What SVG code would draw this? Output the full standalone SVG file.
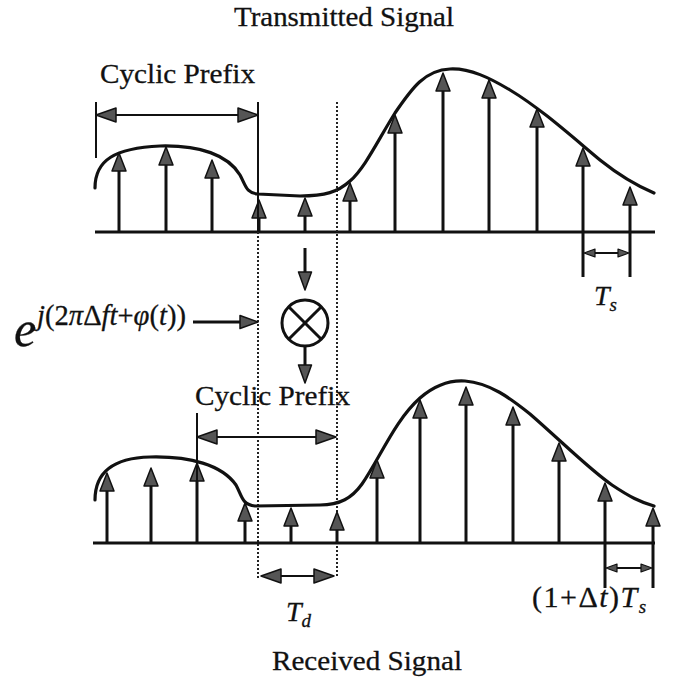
<svg xmlns="http://www.w3.org/2000/svg" width="686" height="680" viewBox="0 0 686 680">
<style>
.txt{font-family:"Liberation Serif","Times New Roman",serif;fill:#111;stroke:#111;stroke-width:0.3}
.it{font-style:italic}
.ln{stroke:#111;stroke-width:3;fill:none}
.stem{stroke:#111;stroke-width:3;marker-end:url(#ah)}
.curve{stroke:#111;stroke-width:3.2;fill:none;stroke-linecap:round}
.dot{stroke:#222;stroke-width:2;stroke-dasharray:2 2;fill:none}
.thin{stroke:#111;stroke-width:2;fill:none}
</style>
<defs>
<marker id="ah" viewBox="0 0 18 14" refX="10" refY="7" markerWidth="18" markerHeight="14" markerUnits="userSpaceOnUse" orient="auto" overflow="visible">
<path d="M0,0 L18,7 L0,14 z" fill="#555" stroke="#111" stroke-width="1.5" stroke-linejoin="round"/>
</marker>
<marker id="big" viewBox="0 0 20 14" refX="12" refY="7" markerWidth="20" markerHeight="14" markerUnits="userSpaceOnUse" orient="auto-start-reverse" overflow="visible">
<path d="M0,0 L20,7 L0,14 z" fill="#555" stroke="#111" stroke-width="1.5" stroke-linejoin="round"/>
</marker>
<marker id="mid" viewBox="0 0 18 13" refX="10" refY="6.5" markerWidth="18" markerHeight="13" markerUnits="userSpaceOnUse" orient="auto" overflow="visible">
<path d="M0,0 L18,6.5 L0,13 z" fill="#555" stroke="#111" stroke-width="1.5" stroke-linejoin="round"/>
</marker>
<marker id="sm" viewBox="0 0 11 8" refX="6" refY="4" markerWidth="11" markerHeight="8" markerUnits="userSpaceOnUse" orient="auto-start-reverse" overflow="visible">
<path d="M0,0 L11,4 L0,8 z" fill="#555" stroke="#111" stroke-width="1.2" stroke-linejoin="round"/>
</marker>
</defs>
<rect width="686" height="680" fill="#fff"/>

<text class="txt" x="344" y="26" font-size="28" text-anchor="middle" textLength="220" lengthAdjust="spacingAndGlyphs">Transmitted Signal</text>

<g id="top-signal">
<line class="ln" x1="95" y1="232" x2="655" y2="232"/>
<path class="curve" d="M95,188 C95,160 115,148 160,146 C200,145 228,155 240,175 C246,186 246,193 258,194 L300,196 C325,196 338,192 350,181 C365,168 378,140 395,113 C412,88 425,70 450,69 C470,68 490,78 510,90 C540,108 570,135 600,160 C620,176 635,185 654,193"/>
<line class="stem" x1="119" y1="232" x2="119" y2="161"/>
<line class="stem" x1="166" y1="232" x2="166" y2="155"/>
<line class="stem" x1="212" y1="232" x2="212" y2="168"/>
<line class="stem" x1="259" y1="232" x2="259" y2="208"/>
<line class="stem" x1="305" y1="232" x2="305" y2="206"/>
<line class="stem" x1="350" y1="232" x2="350" y2="191"/>
<line class="stem" x1="395" y1="232" x2="395" y2="123"/>
<line class="stem" x1="443" y1="232" x2="443" y2="81"/>
<line class="stem" x1="489" y1="232" x2="489" y2="88"/>
<line class="stem" x1="537" y1="232" x2="537" y2="117"/>
<line class="stem" x1="583" y1="232" x2="583" y2="156"/>
<line class="stem" x1="630" y1="232" x2="630" y2="195"/>
</g>

<g id="top-cyclic-prefix">
<text class="txt" x="100" y="83" font-size="28" textLength="155" lengthAdjust="spacingAndGlyphs">Cyclic Prefix</text>
<line class="thin" x1="96" y1="102" x2="96" y2="158"/>
<line class="thin" x1="258" y1="102" x2="258" y2="232"/>
</g>

<g id="top-ts">
<line class="ln" x1="583" y1="232" x2="583" y2="277"/>
<line class="ln" x1="630" y1="232" x2="630" y2="277"/>
<text class="txt it" x="594" y="305" font-size="28">T<tspan font-size="19" dy="6">s</tspan></text>
</g>

<g id="window">
<line class="dot" x1="258" y1="232" x2="258" y2="578"/>
<line class="dot" x1="337" y1="102" x2="337" y2="578"/>
</g>

<g id="multiplier">
<circle cx="305" cy="323" r="23" fill="none" stroke="#111" stroke-width="3"/>
<line class="ln" x1="288.7" y1="306.7" x2="321.3" y2="339.3"/>
<line class="ln" x1="321.3" y1="306.7" x2="288.7" y2="339.3"/>
</g>

<g id="phase-term">
<text class="txt it" x="14" y="346" font-size="50">e</text>
<text class="txt" x="37" y="325" font-size="29" textLength="149" lengthAdjust="spacingAndGlyphs"><tspan class="it">j</tspan>(2<tspan class="it">π</tspan>Δ<tspan class="it">ft</tspan>+<tspan class="it">φ</tspan>(<tspan class="it">t</tspan>))</text>
</g>

<g id="bottom-signal">
<line class="ln" x1="93" y1="543" x2="655" y2="543"/>
<path class="curve" d="M95,500 C95,475 110,458 150,457 C190,456 222,465 236,485 C242,496 242,505 255,506 L320,505 C340,505 352,498 362,484 C380,458 395,420 420,398 C435,385 450,380 465,381 C490,383 510,398 530,414 C560,440 590,470 612,485 C630,497 640,502 654,506"/>
<line class="stem" x1="107" y1="543" x2="107" y2="481"/>
<line class="stem" x1="151" y1="543" x2="151" y2="476"/>
<line class="stem" x1="197" y1="543" x2="197" y2="471"/>
<line class="stem" x1="245" y1="543" x2="245" y2="511"/>
<line class="stem" x1="291" y1="543" x2="291" y2="516"/>
<line class="stem" x1="337" y1="543" x2="337" y2="520"/>
<line class="stem" x1="377" y1="543" x2="377" y2="468"/>
<line class="stem" x1="420" y1="543" x2="420" y2="408"/>
<line class="stem" x1="466" y1="543" x2="466" y2="395"/>
<line class="stem" x1="513" y1="543" x2="513" y2="415"/>
<line class="stem" x1="559" y1="543" x2="559" y2="451"/>
<line class="stem" x1="605" y1="543" x2="605" y2="491"/>
<line class="stem" x1="653" y1="543" x2="653" y2="516"/>
</g>

<g id="bottom-cyclic-prefix">
<text class="txt" x="195" y="405" font-size="28" textLength="155" lengthAdjust="spacingAndGlyphs">Cyclic Prefix</text>
<line class="thin" x1="197" y1="413" x2="197" y2="543"/>
</g>

<g id="bottom-ts">
<line class="ln" x1="605" y1="543" x2="605" y2="588"/>
<line class="ln" x1="653" y1="543" x2="653" y2="588"/>
<text class="txt" x="532" y="607" font-size="30" letter-spacing="1.5">(1+Δ<tspan class="it">t</tspan>)<tspan class="it">T</tspan><tspan class="it" font-size="19" dy="6">s</tspan></text>
</g>

<g id="td">
<text class="txt it" x="286" y="621" font-size="28">T<tspan font-size="19" dy="6">d</tspan></text>
</g>

<text class="txt" x="367" y="670" font-size="28" text-anchor="middle" textLength="190" lengthAdjust="spacingAndGlyphs">Received Signal</text>

<g id="connectors">
<line class="thin" x1="104" y1="115" x2="250" y2="115" marker-start="url(#big)" marker-end="url(#big)"/>
<line class="thin" x1="205" y1="437" x2="328" y2="437" marker-start="url(#big)" marker-end="url(#big)"/>
<line class="thin" x1="269" y1="576" x2="326" y2="576" marker-start="url(#big)" marker-end="url(#big)"/>
<line class="thin" x1="589" y1="253" x2="624" y2="253" marker-start="url(#sm)" marker-end="url(#sm)"/>
<line class="thin" x1="611" y1="568" x2="647" y2="568" marker-start="url(#sm)" marker-end="url(#sm)"/>
<line class="ln" x1="305" y1="248" x2="305" y2="282" marker-end="url(#mid)"/>
<line class="ln" x1="305" y1="347" x2="305" y2="375" marker-end="url(#mid)"/>
<line class="ln" x1="193" y1="322" x2="250" y2="322" marker-end="url(#mid)"/>
</g>
</svg>
